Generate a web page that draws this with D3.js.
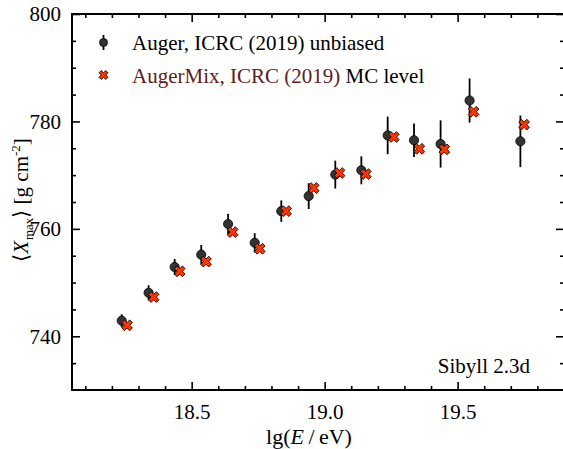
<!DOCTYPE html>
<html>
<head>
<meta charset="utf-8">
<script src="https://cdn.jsdelivr.net/npm/d3@7"></script>
<style>
  body { margin: 0; background: #fff; }
  svg, svg text { font-family: "Liberation Serif", serif !important; }
</style>
</head>
<body>
<div id="root"></div>
<script>
// Auger, ICRC (2019) unbiased
const augerLgE = [18.237, 18.338, 18.436, 18.536, 18.637, 18.737, 18.837, 18.94, 19.04, 19.138, 19.237, 19.336, 19.436, 19.545, 19.736];
const augerXmax = [742.9, 748.1, 752.9, 755.2, 760.9, 757.4, 763.3, 766.1, 770.1, 770.9, 777.4, 776.5, 775.8, 783.9, 776.3];
const augerErr = [1.2, 1.4, 1.5, 1.8, 1.9, 1.8, 2.0, 2.4, 2.6, 2.6, 3.5, 3.1, 4.4, 4.1, 4.8];
// AugerMix, ICRC (2019) MC level
const mixLgE = [18.257, 18.357, 18.455, 18.554, 18.654, 18.756, 18.855, 18.959, 19.056, 19.155, 19.26, 19.356, 19.45, 19.56, 19.75];
const mixXmax = [742.05,747.3, 752.1, 753.9, 759.4, 756.3, 763.3, 767.6, 770.4, 770.2, 777.1, 774.9, 774.8, 781.8, 779.4];

const xTicks = [18.5, 19.0, 19.5];
const yTicks = [740, 760, 780, 800];

const W = 563, H = 449;
const margin = { left: 72, top: 14, right: -1, bottom: 59 };
const width = W - margin.left - margin.right;
const height = H - margin.top - margin.bottom;

const svg = d3.select('#root').append('svg').attr('width', W).attr('height', H).style('display', 'block');
const g = svg.append('g').attr('transform', `translate(${margin.left},${margin.top})`);

const x = d3.scaleLinear().domain([18.05, 19.9]).range([0, width]);
const y = d3.scaleLinear().domain([730, 800]).range([height, 0]);

const fs = 21;
const minorX = d3.range(18.1, 19.9, 0.1).filter(v => !xTicks.some(t => Math.abs(t - v) < 1e-6));
const minorY = d3.range(735, 800, 5).filter(v => v % 20 !== 0);

// axes: ticks point inward on all four sides
function drawAxis(axis, transform) {
  const a = g.append('g').attr('transform', transform).call(axis);
  a.attr('font-family', null);
  a.select('.domain').remove();
  a.selectAll('line').attr('stroke', '#000').attr('stroke-width', 1.6);
  a.selectAll('text').attr('font-size', fs).attr('fill', '#000');
  return a;
}
const major = 8, minor = 4;
drawAxis(d3.axisBottom(x).tickValues(xTicks).tickSize(-major).tickPadding(major + 6).tickFormat(d3.format('.1f')), `translate(0,${height})`);
drawAxis(d3.axisBottom(x).tickValues(minorX).tickSize(-minor).tickFormat(''), `translate(0,${height})`);
drawAxis(d3.axisTop(x).tickValues(xTicks).tickSize(-major).tickFormat(''), 'translate(0,0)');
drawAxis(d3.axisTop(x).tickValues(minorX).tickSize(-minor).tickFormat(''), 'translate(0,0)');
drawAxis(d3.axisLeft(y).tickValues(yTicks).tickSize(-major).tickPadding(major + 3).tickFormat(d3.format('d')), 'translate(0,0)');
drawAxis(d3.axisLeft(y).tickValues(minorY).tickSize(-minor).tickFormat(''), 'translate(0,0)');
drawAxis(d3.axisRight(y).tickValues(yTicks).tickSize(-major).tickFormat(''), `translate(${width},0)`);
drawAxis(d3.axisRight(y).tickValues(minorY).tickSize(-minor).tickFormat(''), `translate(${width},0)`);

g.append('rect').attr('width', width).attr('height', height)
  .attr('fill', 'none').attr('stroke', '#000').attr('stroke-width', 2);

// error bars + circles
const auger = augerLgE.map((e, i) => ({ e, v: augerXmax[i], s: augerErr[i] }));
g.selectAll('.err').data(auger).join('line')
  .attr('x1', d => x(d.e)).attr('x2', d => x(d.e))
  .attr('y1', d => y(d.v - d.s)).attr('y2', d => y(d.v + d.s))
  .attr('stroke', '#000').attr('stroke-width', 1.8);
g.selectAll('.pt').data(auger).join('circle')
  .attr('cx', d => x(d.e)).attr('cy', d => y(d.v)).attr('r', 4.6)
  .attr('fill', '#333').attr('stroke', '#000').attr('stroke-width', 0.8);

const cross = d3.symbol(d3.symbolCross, 72);
const mix = mixLgE.map((e, i) => ({ e, v: mixXmax[i] }));
g.selectAll('.mx').data(mix).join('path')
  .attr('d', cross)
  .attr('transform', d => `translate(${x(d.e)},${y(d.v)}) rotate(45)`)
  .attr('fill', '#ff3300').attr('stroke', '#000').attr('stroke-width', 0.8);

// legend
const lg = g.append('g');
lg.append('line').attr('x1', 31.5).attr('x2', 31.5).attr('y1', 21).attr('y2', 36)
  .attr('stroke', '#000').attr('stroke-width', 1.8);
lg.append('circle').attr('cx', 31.5).attr('cy', 28.5).attr('r', 4)
  .attr('fill', '#333').attr('stroke', '#000').attr('stroke-width', 0.8);
lg.append('path').attr('d', d3.symbol(d3.symbolCross, 50))
  .attr('transform', 'translate(31.5,61) rotate(45)')
  .attr('fill', '#ff3300').attr('stroke', '#000').attr('stroke-width', 0.8);
lg.append('text').attr('x', 60).attr('y', 35.5).attr('font-size', fs).attr('fill', '#000')
  .text('Auger, ICRC (2019) unbiased');
const t2 = lg.append('text').attr('x', 60).attr('y', 69).attr('font-size', fs);
t2.append('tspan').attr('fill', '#5e2020').text('AugerMix, ICRC (2019)');
t2.append('tspan').attr('fill', '#000').text(' MC level');

g.append('text').attr('x', 458).attr('y', 359).attr('text-anchor', 'end')
  .attr('font-size', fs).text('Sibyll 2.3d');

// axis titles
const xt = svg.append('text').attr('x', 309).attr('y', 444).attr('text-anchor', 'middle').attr('font-size', fs + 1);
xt.append('tspan').text('lg(');
xt.append('tspan').attr('font-style', 'italic').text('E');
xt.append('tspan').text('\u2009/\u2009eV)');

const yt = svg.append('text').attr('transform', 'translate(28,200) rotate(-90)')
  .attr('text-anchor', 'middle').attr('font-size', fs);
yt.append('tspan').text('\u27e8');
yt.append('tspan').attr('font-style', 'italic').text('X');
yt.append('tspan').attr('font-size', 13).attr('dx', 1).attr('dy', 5).text('max');
yt.append('tspan').attr('dy', -5).text('\u27e9 [g cm');
yt.append('tspan').attr('font-size', 13).attr('dy', -8).text('-2');
yt.append('tspan').attr('dy', 8).text(']');
</script>
</body>
</html>
